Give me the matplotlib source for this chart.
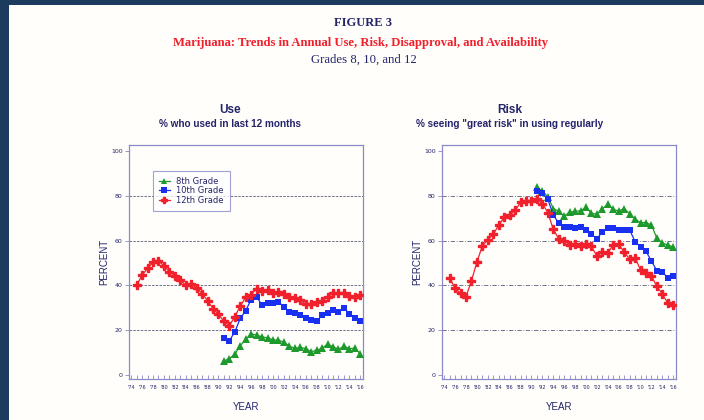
import matplotlib
matplotlib.use("Agg")
import matplotlib.pyplot as plt
from matplotlib.patches import Rectangle

years_12 = list(range(1975, 2017))
years_810 = list(range(1991, 2017))

use_12 = [40.0, 44.5, 47.6, 50.2, 50.8, 48.8, 46.1, 44.3, 42.3, 40.0, 40.6, 38.8, 36.3, 33.1,
          29.6, 27.0, 23.9, 21.9, 26.0, 30.7, 34.7, 35.8, 38.5, 37.5, 37.8, 36.5, 37.0, 36.2,
          34.9, 34.3, 33.6, 31.5, 31.7, 32.4, 32.8, 34.8, 36.4, 36.4, 36.4, 35.1, 34.9, 35.6]
use_10 = [16.5, 15.2, 19.2, 25.2, 28.7, 33.6, 34.8, 31.1, 32.1, 32.2, 32.7, 30.3, 28.2, 27.5,
          26.6, 25.2, 24.6, 23.9, 26.7, 27.5, 28.8, 28.0, 29.8, 27.3, 25.4, 23.9]
use_8 = [6.2, 7.2, 9.2, 13.0, 15.8, 18.3, 17.7, 16.9, 16.5, 15.6, 15.4, 14.6, 12.8, 11.8,
         12.2, 11.7, 10.3, 10.9, 11.8, 13.7, 12.5, 11.4, 12.7, 11.7, 11.8, 9.4]

risk_12 = [43.3, 38.6, 36.4, 34.9, 42.0, 50.4, 57.6, 60.4, 62.8, 66.9, 70.4, 71.3, 73.5, 77.0,
           77.5, 77.8, 78.6, 76.5, 72.5, 65.0, 60.8, 59.9, 58.1, 58.5, 57.4, 58.3, 57.4, 53.0,
           54.9, 54.6, 58.0, 58.3, 54.8, 51.7, 52.4, 46.8, 45.7, 44.1, 39.5, 36.1, 31.9, 31.1]
risk_10 = [82.1, 81.1, 78.5, 71.3, 67.9, 65.9, 65.9, 65.8, 65.9, 64.7, 62.8, 60.8, 63.9, 65.4,
           65.5, 64.9, 64.5, 64.8, 59.5, 57.2, 55.2, 50.8, 46.5, 45.9, 43.4, 44.1]
risk_8 = [83.8, 82.0, 79.6, 74.3, 73.0, 70.9, 72.7, 73.0, 73.3, 74.8, 72.2, 71.7, 74.2, 76.2,
          73.9, 73.2, 74.3, 72.0, 69.6, 68.0, 68.0, 66.9, 61.0, 58.9, 58.0, 57.1]

series_labels = ["8th Grade", "10th Grade", "12th Grade"]
xtick_labels = ["'74", "'76", "'78", "'80", "'82", "'84", "'86", "'88", "'90", "'92", "'94",
                "'96", "'98", "'00", "'02", "'04", "'06", "'08", "'10", "'12", "'14", "'16"]
yticks = [0, 20, 40, 60, 80, 100]

NAVY = "#24246a"
FRAME = "#8a8ac8"
GREEN = "#1e9a2c"
BLUE = "#1a30f0"
RED = "#f0202c"

fig = plt.figure(figsize=(7.04, 4.2), dpi=100)
fig.patch.set_facecolor("#1d3a5f")
fig.patches.append(Rectangle((9 / 704, 0), 1, 1 - 5 / 420, transform=fig.transFigure,
                             facecolor="#fffefb", edgecolor="none", zorder=-10))

serif = ["Liberation Serif", "DejaVu Serif"]
sans = ["Liberation Sans", "DejaVu Sans"]
fig.text(363 / 704, 1 - 23 / 420, "FIGURE 3", ha="center", va="center", family=serif,
         weight="bold", fontsize=9, color=NAVY)
fig.text(361 / 704, 1 - 43 / 420,
         "Marijuana: Trends in Annual Use, Risk, Disapproval, and Availability",
         ha="center", va="center", family=serif, weight="bold", fontsize=9.1, color=RED)
fig.text(364 / 704, 1 - 60 / 420, "Grades 8, 10, and 12", ha="center", va="center",
         family=serif, fontsize=9.2, color=NAVY)


def panel(left_px, title, subtitle, title_x, data, grid_ls, legend=False):
    ax = fig.add_axes([left_px / 704, 1 - 379 / 420, 234 / 704, 234 / 420])
    ax.set_facecolor("none")
    ax.set_xlim(1973.6, 2016.5)
    ax.set_ylim(-1.9, 102.7)
    for sp in ax.spines.values():
        sp.set_color(FRAME)
        sp.set_linewidth(0.9)
    for yv in yticks[1:-1]:
        ax.axhline(yv, color="#5a5a7a", lw=0.6, ls=grid_ls, zorder=1)
    specs = [("^", GREEN, 5.2, 0), ("s", BLUE, 4.6, 0), ("P", RED, 5.6, 1.0)]
    for (yrs, vals), lab, (mk, col, ms, mew) in zip(data, series_labels, specs):
        ax.plot(yrs, vals, color=col, lw=0.9, marker=mk, markersize=ms,
                markeredgewidth=mew, markeredgecolor=col, label=lab, zorder=3)
    ax.set_yticks(yticks)
    ax.set_yticklabels([str(v) for v in yticks])
    ax.tick_params(axis="y", direction="out", length=3, width=0.6, color=FRAME,
                   labelsize=4.5, labelcolor=NAVY, pad=1.5)
    ax.set_xticks(list(range(1974, 2017)), minor=True)
    ax.set_xticks(list(range(1974, 2017, 2)))
    ax.set_xticklabels(xtick_labels)
    ax.tick_params(axis="x", which="both", direction="in", length=3, width=0.6,
                   color=FRAME, labelsize=3.5, labelcolor=NAVY, pad=4)
    ax.set_ylabel("PERCENT", fontsize=7, color=NAVY, family=sans, labelpad=1)
    ax.set_xlabel("YEAR", fontsize=7, color=NAVY, family=sans, labelpad=9)
    fig.text(title_x / 704, 1 - 110 / 420, title, ha="center", va="center",
             family=sans, weight="bold", fontsize=8.5, color=NAVY)
    fig.text(title_x / 704, 1 - 124 / 420, subtitle, ha="center", va="center",
             family=sans, weight="bold", fontsize=7.2, color=NAVY)
    if legend:
        leg = ax.legend(loc="upper left", bbox_to_anchor=(24 / 234, 208 / 234), fontsize=6,
                        frameon=True, fancybox=False, handlelength=1.3,
                        handletextpad=0.8, borderpad=0.7, labelspacing=0.05,
                        borderaxespad=0, labelcolor=NAVY, markerscale=0.85)
        leg.get_frame().set_edgecolor(FRAME)
        leg.get_frame().set_linewidth(0.8)
    return ax


panel(129, "Use", "% who used in last 12 months", 230,
      [(years_810, use_8), (years_810, use_10), (years_12, use_12)],
      (0, (3, 1.5)), legend=True)
panel(442, "Risk", "% seeing \"great risk\" in using regularly", 510,
      [(years_810, risk_8), (years_810, risk_10), (years_12, risk_12)],
      (0, (5, 2, 1, 2)))

fig.savefig("out.png", dpi=100, facecolor=fig.get_facecolor())
